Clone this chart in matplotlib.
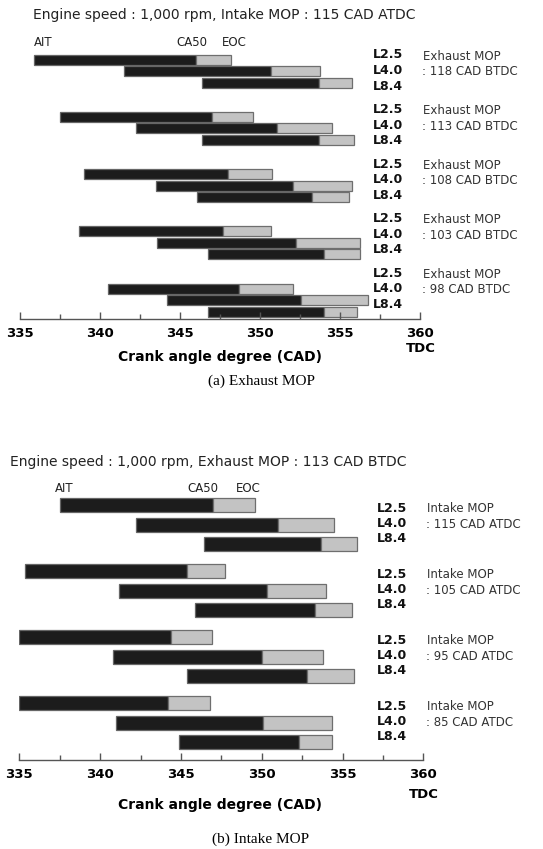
import matplotlib.pyplot as plt
from matplotlib.ticker import MultipleLocator

# === 資料 ===
loads = ["L2.5", "L4.0", "L8.4"]

# (a) Exhaust MOP
exh_mop = ["118", "113", "108", "103", "98"]
exh_ait = [[335.9, 341.5, 346.4], [337.5, 342.3, 346.4], [339.05, 343.5, 346.1],
           [338.7, 343.6, 346.8], [340.5, 344.2, 346.8]]
exh_ca50 = [[346.0, 350.7, 353.7], [347.0, 351.1, 353.7], [348.0, 352.1, 353.3],
            [347.7, 352.3, 354.0], [348.7, 352.6, 354.0]]
exh_eoc = [[348.2, 353.8, 355.8], [349.6, 354.5, 355.9], [350.8, 355.8, 355.6],
           [350.7, 356.3, 356.3], [352.1, 356.8, 356.1]]

# (b) Intake MOP
int_mop = ["115", "105", "95", "85"]
int_ait = [[337.5, 342.2, 346.4], [335.35, 341.2, 345.9], [335.0, 340.8, 345.4],
           [335.0, 341.0, 344.9]]
int_ca50 = [[347.0, 351.0, 353.65], [345.4, 350.35, 353.3], [344.4, 350.0, 352.8],
            [344.2, 350.1, 352.3]]
int_eoc = [[349.6, 354.5, 355.9], [347.7, 354.0, 355.6], [346.9, 353.8, 355.7],
           [346.8, 354.35, 354.35]]

W, H = 543, 849
fig = plt.figure(figsize=(W / 100, H / 100), dpi=100)
fig.patch.set_facecolor("white")


def ftext(x, y, s, **kw):
    fig.text(x / W, 1 - y / H, s, **kw)


def panel(top, axis_y, x0, x1, ait, ca50, eoc, bar_y0, grp_dy, row_dy, bar_h,
          lab_y0, lab_gdy, lab_rdy, lab_x, mop_x, mop_word, mop_vals, mop_unit,
          header, header_x, header_y, cap, cap_y, tdc_y, xl_y, key_y, key_x):
    ax = fig.add_axes([x0 / W, 1 - axis_y / H, (x1 - x0) / W, (axis_y - top) / H])
    ax.set_xlim(335, 360)
    ax.set_ylim(axis_y, top)
    for i in range(len(ait)):
        for r in range(3):
            y = bar_y0 + i * grp_dy + r * row_dy
            ax.barh(y, ca50[i][r] - ait[i][r], left=ait[i][r], height=bar_h,
                    color="#1c1c1c", edgecolor="#666666", linewidth=0.9)
            ax.barh(y, eoc[i][r] - ca50[i][r], left=ca50[i][r], height=bar_h,
                    color="#c3c3c3", edgecolor="#6e6e6e", linewidth=0.9)
            ftext(lab_x, lab_y0 + i * lab_gdy + r * lab_rdy, loads[r],
                  fontsize=9, fontweight="bold", va="center", color="#111111")
        ly = lab_y0 + i * lab_gdy
        ftext(mop_x, ly + 1, mop_word, fontsize=8.5, va="center", color="#333333")
        ftext(mop_x - 1, ly + lab_rdy + 1, ": %s CAD %s" % (mop_vals[i], mop_unit),
              fontsize=8.5, va="center", color="#333333")

    for s in ["top", "left", "right"]:
        ax.spines[s].set_visible(False)
    ax.spines["bottom"].set_color("#555555")
    ax.spines["bottom"].set_linewidth(1.0)
    ax.set_yticks([])
    ax.xaxis.set_major_locator(MultipleLocator(5))
    ax.xaxis.set_minor_locator(MultipleLocator(2.5))
    ax.tick_params(axis="x", which="major", direction="in", length=5, width=1,
                   color="#555555", labelsize=9.5, pad=6)
    ax.tick_params(axis="x", which="minor", direction="in", length=3.5, width=1,
                   color="#555555")
    for lab in ax.get_xticklabels():
        lab.set_fontweight("bold")
    ax.patch.set_alpha(0)

    ftext(x1 + 1, tdc_y, "TDC", fontsize=9.5, fontweight="bold", ha="center", va="center")
    ftext(220, xl_y, "Crank angle degree (CAD)", fontsize=10, fontweight="bold",
          ha="center", va="center")
    ftext(header_x, header_y, header, fontsize=10, va="center", color="#222222")
    ftext(key_x[0], key_y, "AIT", fontsize=8.5, va="center", color="#222222")
    ftext(key_x[1], key_y, "CA50", fontsize=8.5, va="center", color="#222222")
    ftext(key_x[2], key_y, "EOC", fontsize=8.5, va="center", color="#222222")
    ftext(261, cap_y, cap, fontsize=11, ha="center", va="center",
          family="Liberation Serif")
    return ax


panel(30, 319, 19.5, 419.5, exh_ait, exh_ca50, exh_eoc,
      59.5, 57.3, 11.5, 10,
      55, 54.6, 15.5, 373, 423, "Exhaust MOP", exh_mop, "BTDC",
      "Engine speed : 1,000 rpm, Intake MOP : 115 CAD ATDC", 33, 15,
      "(a) Exhaust MOP", 381, 348, 357, 43, (34, 176, 222))

panel(490, 760, 19.3, 423.3, int_ait, int_ca50, int_eoc,
      505.3, 66, 19.5, 14,
      508, 66, 15.5, 377, 427, "Intake MOP", int_mop, "ATDC",
      "Engine speed : 1,000 rpm, Exhaust MOP : 113 CAD BTDC", 10, 462,
      "(b) Intake MOP", 839, 795, 805, 488, (55, 187, 236))

plt.savefig("out.png", dpi=100)
